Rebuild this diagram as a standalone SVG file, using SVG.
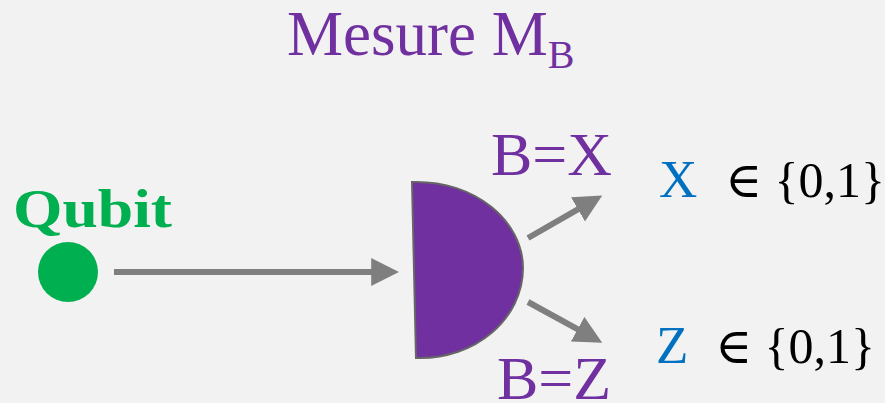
<svg xmlns="http://www.w3.org/2000/svg" width="885" height="403" viewBox="0 0 885 403">
<style>
text{font-family:'Liberation Serif','Times New Roman','DejaVu Serif',serif}
.purple{fill:#7030a0}
.conn{stroke:#7f7f7f;stroke-width:6;fill:none}
</style>
<defs>
<marker id="ah" viewBox="0 0 10 10" refX="0.3" refY="5" markerWidth="28" markerHeight="28" markerUnits="userSpaceOnUse" orient="auto">
<path d="M0,0 L10,5 L0,10 z" fill="#7f7f7f"/>
</marker>
</defs>
<rect width="885" height="403" fill="#f2f2f2"/>
<g id="title">
<text class="purple" font-family="Liberation Serif, serif" x="287" y="55" font-size="63">Mesure M<tspan font-size="40" dy="13">B</tspan></text>
</g>
<g id="qubit">
<text font-family="Liberation Serif, serif" x="13" y="227" font-size="55" font-weight="bold" fill="#00b050" textLength="159" lengthAdjust="spacingAndGlyphs">Qubit</text>
<circle cx="68" cy="272" r="30" fill="#00b050"/>
</g>
<g id="measure">
<path d="M412,182 C476,180 523,222 523,268 C523,318 476,360 416,358 Z" fill="#7030a0" stroke="#666666" stroke-width="2"/>
</g>
<g id="label-bx">
<text class="purple" font-family="Liberation Serif, serif" x="491" y="175" font-size="62">B=X</text>
</g>
<g id="label-bz">
<text class="purple" font-family="Liberation Serif, serif" x="497" y="399" font-size="62">B=Z</text>
</g>
<g id="out-x">
<text font-family="Liberation Serif, serif" x="659" y="197" font-size="53" fill="#0070c0">X</text>
<text font-family="Liberation Serif, DejaVu Serif, serif" x="725" y="197" font-size="50" fill="#000">∈ {0,1}</text>
</g>
<g id="out-z">
<text font-family="Liberation Serif, serif" x="656" y="363" font-size="53" fill="#0070c0">Z</text>
<text font-family="Liberation Serif, DejaVu Serif, serif" x="715" y="363" font-size="50" fill="#000">∈ {0,1}</text>
</g>
<g id="connectors">
<line class="conn" x1="114" y1="272" x2="372" y2="272" marker-end="url(#ah)"/>
<line class="conn" x1="528" y1="238" x2="578.7" y2="208.9" marker-end="url(#ah)"/>
<line class="conn" x1="528" y1="302" x2="578.4" y2="329.6" marker-end="url(#ah)"/>
</g>
</svg>
